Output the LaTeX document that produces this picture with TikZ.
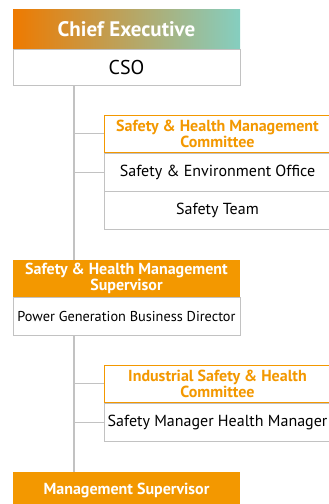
\documentclass[tikz,border=0pt]{standalone}
\usepackage{fontspec}
\setmainfont{PT Sans}
\usepackage{tikz}
\usetikzlibrary{positioning}

\definecolor{orgfill}{HTML}{F39800}
\definecolor{orgstart}{HTML}{EE7A00}
\definecolor{tealend}{HTML}{85CEC0}
\definecolor{linegray}{HTML}{C2C2C2}

\begin{document}
\begin{tikzpicture}[
  x=1pt, y=1pt,
  grad/.style={left color=orgstart, right color=tealend, text=white, minimum width=227pt, minimum height=39pt, inner sep=0pt, align=center, font=\fontsize{21}{22}\selectfont\bfseries},
  head/.style={fill=orgfill, text=white, minimum width=227pt, minimum height=37pt, inner sep=0pt, align=center, font=\fontsize{16}{16}\selectfont\bfseries},
  body/.style={draw=linegray, line width=0.9pt, fill=white, minimum width=227pt, minimum height=38pt, inner sep=0pt, align=center, font=\fontsize{16}{17}\selectfont},
  comm/.style={draw=orgfill, line width=0.9pt, fill=white, text=orgfill, minimum width=227pt, minimum height=37pt, inner sep=0pt, align=center, font=\fontsize{16}{16}\selectfont\bfseries},
  link/.style={draw=linegray, line width=1.2pt}
]
\useasboundingbox (0,0) rectangle (329,-504);
\clip (0,0) rectangle (329,-504);

% top
\node[body, minimum height=36pt, font=\fontsize{20}{21}\selectfont] (cso) at (126.5,-67) {CSO};
\node[grad, above=0pt of cso] (ceo) {Chief Executive};

% first committee
\node[body] (seo) at (217.5,-172) {Safety \& Environment Office};
\node[comm, above=0pt of seo] (shmc) {Safety \& Health Management\\Committee};
\node[body, below=0pt of seo] (team) {Safety Team};

% supervisor
\node[head] (shms) at (126.5,-278.5) {Safety \& Health Management\\Supervisor};
\node[body, below=0pt of shms, font=\fontsize{14.3}{15}\selectfont] (pgbd) {Power Generation Business Director};

% second committee
\node[body] (shm) at (217.5,-422) {Safety Manager Health Manager};
\node[comm, above=0pt of shm] (ishc) {Industrial Safety \& Health\\Committee};

% bottom
\node[head, minimum height=36pt] (ms) at (126.5,-490) {Management Supervisor};

% trunk and branches
\path (cso.south) ++(-52.5,0) coordinate (trunk);
\draw[link] (trunk) -- (trunk |- shms.north);
\draw[link] (trunk |- pgbd.south) -- (trunk |- ms.north);
\draw[link, line width=0.9pt] (trunk |- shmc.west) -- (shmc.west);
\draw[link, line width=0.9pt] (trunk |- seo.west) -- (seo.west);
\draw[link, line width=0.9pt] (trunk |- ishc.west) -- (ishc.west);
\draw[link, line width=0.9pt] (trunk |- shm.west) -- (shm.west);
\end{tikzpicture}
\end{document}
